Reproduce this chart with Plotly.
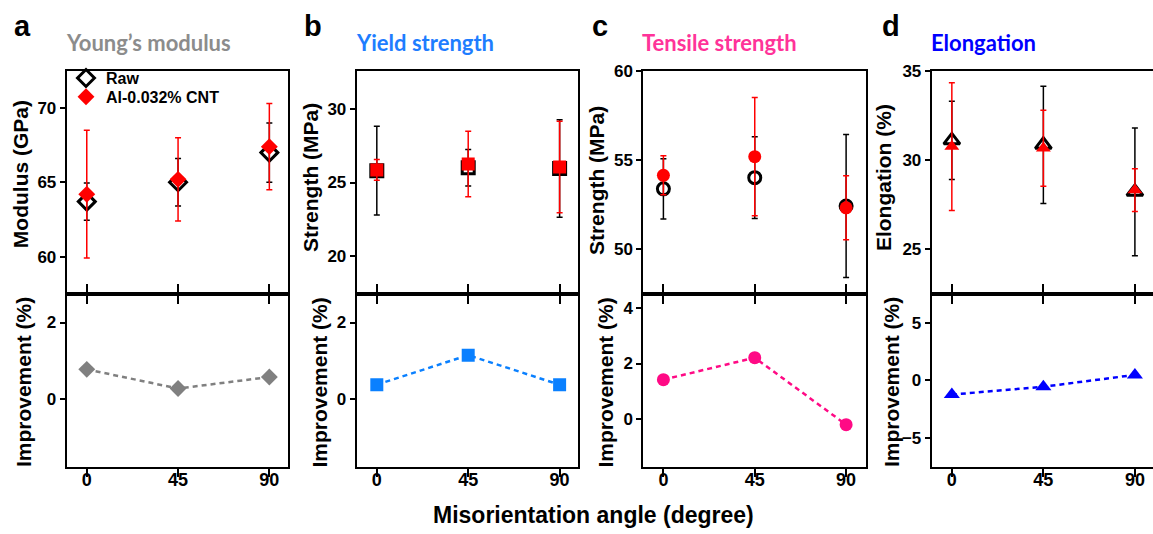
import plotly.graph_objects as go

W, H = 1153, 534

# ---- data -------------------------------------------------------------
angles = [0, 45, 90]

modulus_raw = [63.7, 65.0, 67.0]
modulus_raw_err = [1.25, 1.6, 2.0]
modulus_cnt = [64.2, 65.2, 67.4]
modulus_cnt_err = [4.3, 2.8, 2.9]
modulus_impr = [0.78, 0.28, 0.58]

yield_raw = [25.8, 26.0, 25.95]
yield_raw_err = [3.0, 1.23, 3.3]
yield_cnt = [25.85, 26.25, 26.05]
yield_cnt_err = [0.7, 2.22, 3.1]
yield_impr = [0.38, 1.15, 0.38]

tensile_raw = [53.37, 54.0, 52.4]
tensile_raw_err = [1.7, 2.3, 4.03]
tensile_cnt = [54.13, 55.18, 52.3]
tensile_cnt_err = [1.1, 3.33, 1.8]
tensile_impr = [1.42, 2.21, -0.2]

elong_raw = [31.1, 30.85, 28.2]
elong_raw_err = [2.2, 3.3, 3.6]
elong_cnt = [30.75, 30.65, 28.3]
elong_cnt_err = [3.6, 2.14, 1.2]
elong_impr = [-1.22, -0.54, 0.48]

panel_letters = ["a", "b", "c", "d"]
panel_titles = ["Young’s modulus", "Yield strength", "Tensile strength", "Elongation"]
title_colors = ["#8c8c8c", "#1e7dff", "#ff3399", "#0000ff"]
impr_colors = ["#808080", "#0a80ff", "#ff0a85", "#0000ff"]
top_ylabels = ["Modulus (GPa)", "Strength (MPa)", "Strength (MPa)", "Elongation (%)"]
legend_names = ["Raw", "Al-0.032% CNT"]

# ---- layout geometry (pixels) ------------------------------------------
plot_left = [66.7, 356.7, 643.3, 931.7]
plot_right = [288.0, 578.3, 866.0, 1153.0]
x_ranges = [[-9.9, 99.2], [-9.9, 99.2], [-9.9, 99.8], [-9.9, 98.9]]
top_y0, mid_y, bot_y1 = 63.0, 290.0, 465.7

top_ranges = [[57.47, 72.5], [17.45, 32.55], [47.44, 60.01], [22.44, 35.01]]
top_ticks = [[60, 65, 70], [20, 25, 30], [50, 55, 60], [25, 30, 35]]
bot_ranges = [[-1.76, 2.74], [-1.76, 2.74], [-1.72, 4.5], [-7.47, 7.47]]
bot_ticks = [[0, 2], [0, 2], [0, 2, 4], [-5, 0, 5]]

raw_symbols = ["diamond-open", "square-open", "circle-open", "triangle-up-open"]
cnt_symbols = ["diamond", "square", "circle", "triangle-up"]
raw_sizes = [13, 12, 12, 14]
cnt_sizes = [13, 13, 13, 13]
impr_sizes = [13, 13, 13, 14]

FONT = "Liberation Sans, Arial, sans-serif"
TITLE_FONT = "Lato, Open Sans, sans-serif"


def fx(px):
    return px / W


def fy(py):
    return 1 - py / H


series = [
    (modulus_raw, modulus_raw_err, modulus_cnt, modulus_cnt_err, modulus_impr),
    (yield_raw, yield_raw_err, yield_cnt, yield_cnt_err, yield_impr),
    (tensile_raw, tensile_raw_err, tensile_cnt, tensile_cnt_err, tensile_impr),
    (elong_raw, elong_raw_err, elong_cnt, elong_cnt_err, elong_impr),
]

fig = go.Figure()
layout = {}
annotations = []

tickfont = dict(family=FONT, size=17, color="black", weight="bold")

for i in range(4):
    top_n = i + 1
    bot_n = i + 5
    xt, yt = f"x{top_n}", f"y{top_n}"
    xb, yb = f"x{bot_n}", f"y{bot_n}"
    raw, raw_err, cnt, cnt_err, impr = series[i]

    fig.add_trace(go.Scatter(
        x=angles, y=raw, mode="markers", name=legend_names[0],
        showlegend=(i == 0), legend="legend",
        marker=dict(symbol=raw_symbols[i], size=raw_sizes[i], color="black",
                    line=dict(width=3, color="black")),
        error_y=dict(type="data", array=raw_err, color="black", thickness=1.5, width=3),
        xaxis=xt, yaxis=yt,
    ))
    fig.add_trace(go.Scatter(
        x=angles, y=cnt, mode="markers", name=legend_names[1],
        showlegend=(i == 0), legend="legend2",
        marker=dict(symbol=cnt_symbols[i], size=cnt_sizes[i], color="#ff0000",
                    line=dict(width=0)),
        error_y=dict(type="data", array=cnt_err, color="#ff0000", thickness=1.5, width=3),
        xaxis=xt, yaxis=yt,
    ))
    fig.add_trace(go.Scatter(
        x=angles, y=impr, mode="lines+markers", showlegend=False,
        line=dict(color=impr_colors[i], width=2.5, dash="5px,4px"),
        marker=dict(symbol=cnt_symbols[i], size=impr_sizes[i], color=impr_colors[i]),
        xaxis=xb, yaxis=yb,
    ))

    xdom = [fx(plot_left[i]), min(1.0, fx(plot_right[i]))]
    mirror_y = i < 3

    common_x = dict(domain=xdom, range=x_ranges[i], tickvals=angles,
                    showline=True, linewidth=2, linecolor="black",
                    ticks="outside", ticklen=8, tickwidth=2, tickcolor="black",
                    showgrid=False, zeroline=False)
    layout["xaxis" if top_n == 1 else f"xaxis{top_n}"] = dict(
        common_x, anchor=yt, mirror=True, showticklabels=False)
    layout[f"xaxis{bot_n}"] = dict(
        common_x, anchor=yb, mirror="allticks", showticklabels=True,
        ticklabelstandoff=-12,
        tickfont=dict(family=FONT, size=18, color="black", weight="bold"))

    common_y = dict(showline=True, linewidth=2, linecolor="black",
                    ticks="outside", ticklen=5, tickwidth=2, tickcolor="black",
                    showgrid=False, zeroline=False, tickfont=tickfont,
                    mirror=mirror_y)
    layout["yaxis" if top_n == 1 else f"yaxis{top_n}"] = dict(
        common_y, anchor=xt, domain=[fy(mid_y), fy(top_y0)],
        range=top_ranges[i], tickvals=top_ticks[i])
    layout[f"yaxis{bot_n}"] = dict(
        common_y, anchor=xb, domain=[fy(bot_y1), fy(mid_y)],
        range=bot_ranges[i], tickvals=bot_ticks[i])

# panel letters and titles
letter_x = [22, 313, 600, 891]
for i in range(4):
    annotations.append(dict(
        text=panel_letters[i], x=fx(letter_x[i]), y=fy(17), xref="paper", yref="paper",
        xanchor="center", yanchor="middle", showarrow=False,
        font=dict(family=FONT, size=29, color="black", weight="bold")))
    annotations.append(dict(
        text=panel_titles[i], x=fx(plot_left[i] - 3), y=fy(34), xref="paper", yref="paper",
        xanchor="left", yanchor="middle", showarrow=False,
        font=dict(family=TITLE_FONT, size=22, color=title_colors[i], weight="bold")))

# rotated axis titles
top_lab_x = [20, 310, 596, 883]
top_lab_y = [168, 172, 175, 172]
bot_lab_x = [23.5, 320, 606, 891.5]
for i in range(4):
    annotations.append(dict(
        text=top_ylabels[i], x=fx(top_lab_x[i]), y=fy(top_lab_y[i]),
        xref="paper", yref="paper", xanchor="center", yanchor="middle",
        textangle=-90, showarrow=False,
        font=dict(family=FONT, size=21, color="black", weight="bold")))
    annotations.append(dict(
        text="Improvement (%)", x=fx(bot_lab_x[i]), y=fy(380),
        xref="paper", yref="paper", xanchor="center", yanchor="middle",
        textangle=-90, showarrow=False,
        font=dict(family=FONT, size=21, color="black", weight="bold")))

annotations.append(dict(
    text="Misorientation angle (degree)", x=fx(593), y=fy(515),
    xref="paper", yref="paper", xanchor="center", yanchor="middle", showarrow=False,
    font=dict(family=FONT, size=23, color="black", weight="bold")))

legend_font = dict(family=FONT, size=16, color="black", weight="bold")
fig.update_layout(
    width=W, height=H,
    margin=dict(l=0, r=0, t=0, b=0),
    paper_bgcolor="white", plot_bgcolor="white",
    showlegend=True,
    legend=dict(x=fx(66), y=fy(53), xanchor="left", yanchor="top",
                bgcolor="rgba(0,0,0,0)", borderwidth=0, font=legend_font,
                itemwidth=30),
    legend2=dict(x=fx(66), y=fy(72), xanchor="left", yanchor="top",
                 bgcolor="rgba(0,0,0,0)", borderwidth=0, font=legend_font,
                 itemwidth=30),
    annotations=annotations,
    **layout,
)

fig.write_html("out.html")
